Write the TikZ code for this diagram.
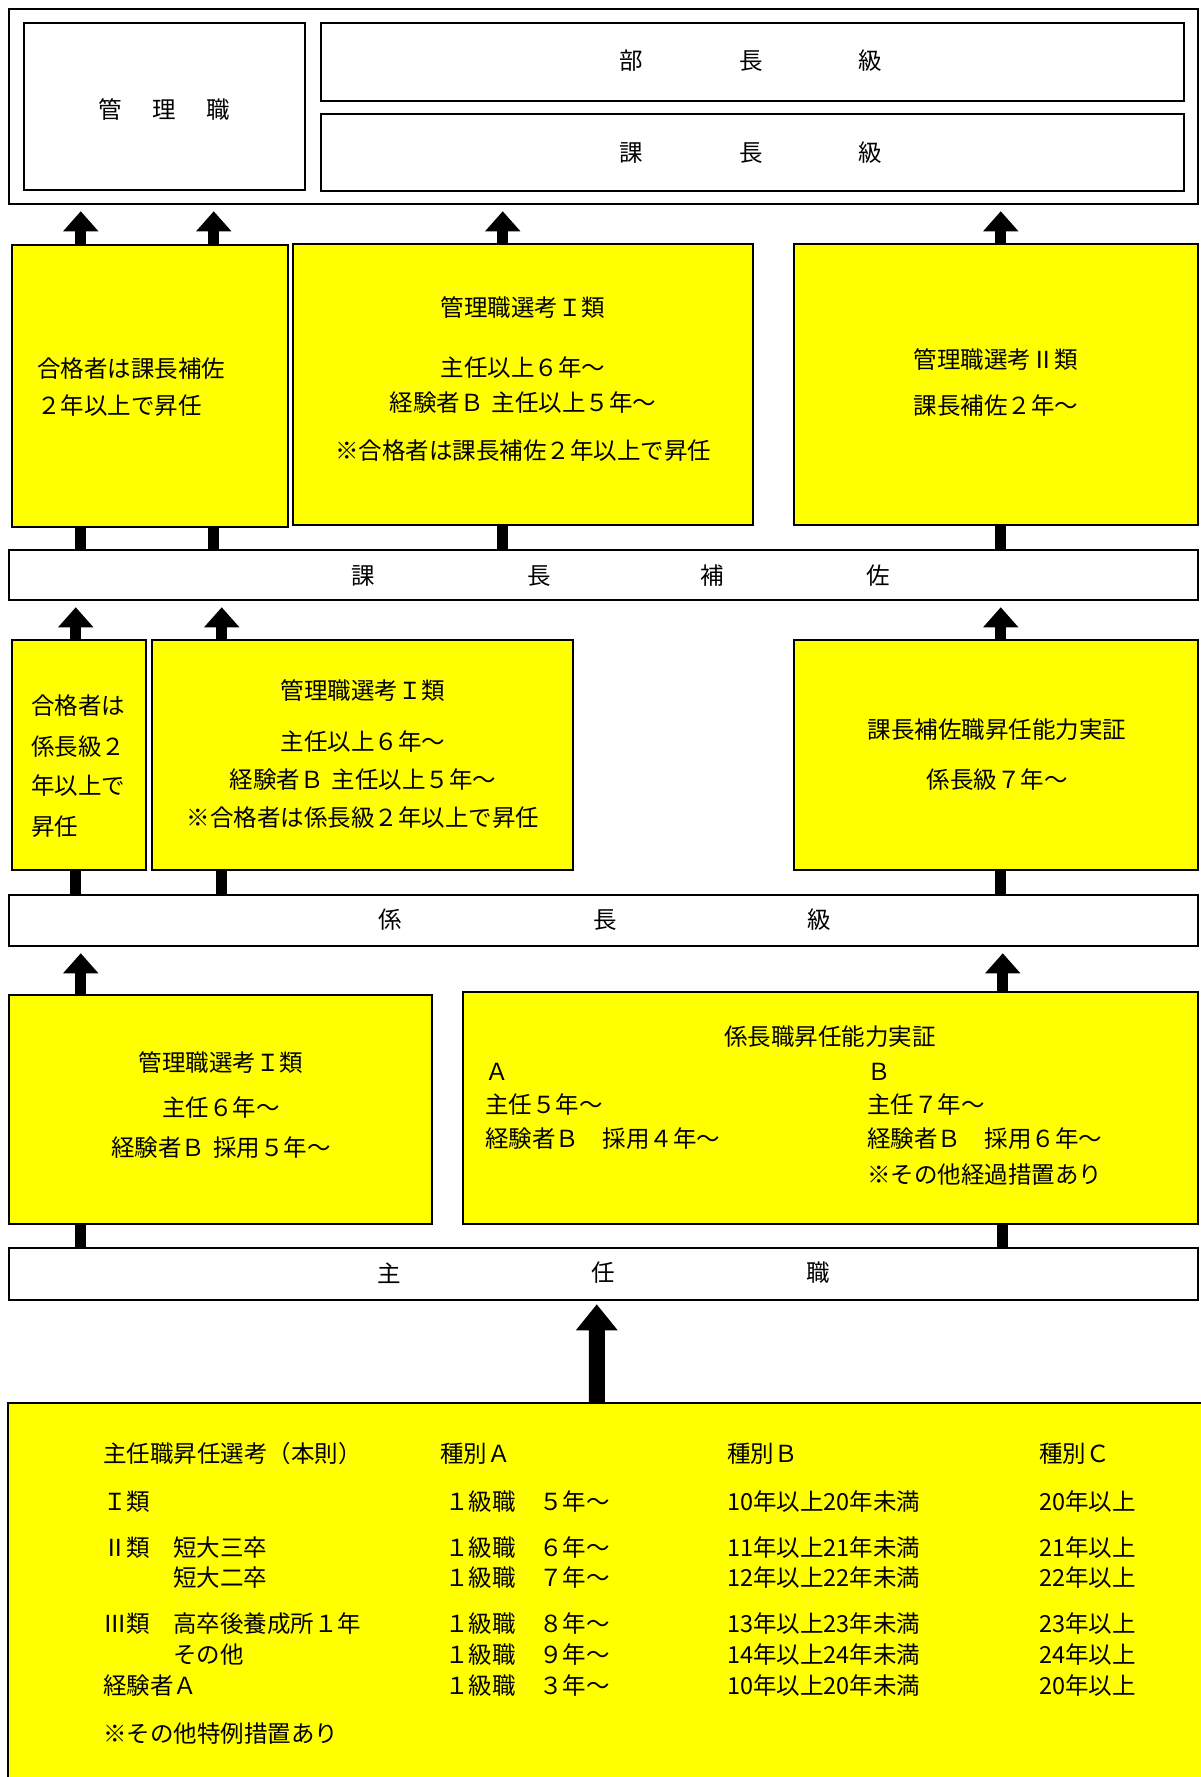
\documentclass[tikz,border=0pt]{standalone}
\usepackage{fontspec}
\setmainfont{Noto Sans CJK JP}
\usetikzlibrary{arrows.meta,backgrounds,positioning}
\definecolor{kiiroiro}{RGB}{255,255,0}
\tikzset{
  waku/.style={draw, line width=2.5pt, fill=white, inner sep=0pt},
  haku/.style={draw, line width=1.5pt, fill=white, inner sep=0pt},
  kiiro/.style={draw, line width=1.5pt, fill=kiiroiro, inner sep=0pt},
  moji/.style={inner sep=0pt, anchor=center},
  hidari/.style={inner sep=0pt, anchor=west},
  yajirushi/.style={line width=11pt, -{Triangle[width=34pt,length=20pt]}, shorten >=6pt},
  futoya/.style={line width=16pt, -{Triangle[width=40pt,length=26pt]}, shorten >=3pt}
}
% box from its corners: name, style, x1, y1, x2, y2
\newcommand{\hako}[6]{\node[#2, minimum width={#5-#3}, minimum height={#6-#4}] (#1) at ({(#3+#5)/2},{(#4+#6)/2}) {};}
\begin{document}
\begin{tikzpicture}[x=1pt, y=-1pt, font=\fontsize{23.5pt}{28pt}\selectfont]
  \useasboundingbox (0,0) rectangle (1201,1777);
  % top frame
  \hako{frame}{waku}{9}{9}{1198}{204}
  \hako{kanri}{haku}{24}{23}{305}{190}
  \hako{bucho}{haku}{321}{23}{1184}{101}
  \hako{kacho}{haku}{321}{114}{1184}{191}
  \foreach \t/\x [count=\i] in {管/110, 理/164, 職/218}
    \node[moji] (kanriL\i) at (\x,110) {\t};
  \foreach \t/\x [count=\i] in {部/631, 長/751, 級/870}
    \node[moji] (buchoL\i) at (\x,61) {\t};
  \foreach \t/\x [count=\i] in {課/631, 長/751, 級/870}
    \node[moji] (kachoL\i) at (\x,153) {\t};
  % row 2
  \hako{gokakuA}{kiiro}{12}{245}{288}{527}
  \hako{senkoA}{kiiro}{293}{244}{753}{525}
  \hako{senkoII}{kiiro}{794}{244}{1198}{525}
  \node[hidari] (gokakuA1) at (37,369) {合格者は課長補佐};
  \node[hidari] (gokakuA2) at (37,406) {２年以上で昇任};
  \node[moji] (senkoA1) at (523,308) {管理職選考Ｉ類};
  \node[moji] (senkoA2) at (523,368) {主任以上６年～};
  \node[moji] (senkoA3) at (523,403) {経験者Ｂ\,\,主任以上５年～};
  \node[moji] (senkoA4) at (523,451) {※合格者は課長補佐２年以上で昇任};
  \node[moji] (senkoII1) at (996,360) {管理職選考Ⅱ類};
  \node[moji] (senkoII2) at (996,406) {課長補佐２年～};
  \hako{hosa}{waku}{9}{550}{1198}{600}
  \foreach \t/\x [count=\i] in {課/363, 長/539, 補/712, 佐/878}
    \node[moji] (hosaL\i) at (\x,576) {\t};
  % row 3
  \hako{gokakuB}{kiiro}{12}{640}{146}{870}
  \hako{senkoB}{kiiro}{152}{640}{573}{870}
  \hako{jisshoA}{kiiro}{794}{640}{1198}{870}
  \foreach \t/\y [count=\i] in {合格者は/706, 係長級２/747, 年以上で/786, 昇任/827}
    \node[hidari] (gokakuB\i) at (31,\y) {\t};
  \node[moji] (senkoB1) at (363,691) {管理職選考Ｉ類};
  \node[moji] (senkoB2) at (363,742) {主任以上６年～};
  \node[moji] (senkoB3) at (363,780) {経験者Ｂ\,\,主任以上５年～};
  \node[moji] (senkoB4) at (363,818) {※合格者は係長級２年以上で昇任};
  \node[moji] (jisshoA1) at (997,730) {課長補佐職昇任能力実証};
  \node[moji] (jisshoA2) at (997,780) {係長級７年～};
  \hako{kakari}{waku}{9}{895}{1198}{946}
  \foreach \t/\x [count=\i] in {係/390, 長/605, 級/819}
    \node[moji] (kakariL\i) at (\x,920) {\t};
  % row 4
  \hako{senkoC}{kiiro}{9}{995}{432}{1224}
  \hako{jisshoB}{kiiro}{463}{992}{1198}{1224}
  \node[moji] (senkoC1) at (221,1063) {管理職選考Ｉ類};
  \node[moji] (senkoC2) at (221,1108) {主任６年～};
  \node[moji] (senkoC3) at (221,1148) {経験者Ｂ\,\,採用５年～};
  \node[moji] (jisshoB0) at (830,1037) {係長職昇任能力実証};
  \node[hidari] (jisshoB1) at (485,1072) {Ａ};
  \node[hidari] (jisshoB2) at (485,1105) {主任５年～};
  \node[hidari] (jisshoB3) at (485,1139) {経験者Ｂ　採用４年～};
  \node[hidari] (jisshoB4) at (867,1072) {Ｂ};
  \node[hidari] (jisshoB5) at (867,1105) {主任７年～};
  \node[hidari] (jisshoB6) at (867,1139) {経験者Ｂ　採用６年～};
  \node[hidari] (jisshoB7) at (867,1175) {※その他経過措置あり};
  \hako{shunin}{waku}{9}{1248}{1198}{1300}
  \foreach \t/\x [count=\i] in {主/389, 任/603, 職/818}
    \node[moji] (shuninL\i) at (\x,1273) {\t};
  % bottom table
  \hako{honsoku}{fill=kiiroiro, inner sep=0pt}{8}{1403}{1201}{1777}
  \draw[line width=1.5pt] (honsoku.south west) |- (honsoku.north east);
  \node[hidari] (hdr1) at (103,1454) {主任職昇任選考（本則）};
  \foreach \t/\x [count=\i] in {種別Ａ/440, 種別Ｂ/727, 種別Ｃ/1039}
    \node[hidari] (hdr\i x) at (\x,1454) {\t};
  \foreach \y/\a/\b/\c/\d/\e [count=\i] in {
      1502/Ｉ類//１級職　５年～/10年以上20年未満/20年以上,
      1548/Ⅱ類/短大三卒/１級職　６年～/11年以上21年未満/21年以上,
      1578//短大二卒/１級職　７年～/12年以上22年未満/22年以上,
      1624/Ⅲ類/高卒後養成所１年/１級職　８年～/13年以上23年未満/23年以上,
      1655//その他/１級職　９年～/14年以上24年未満/24年以上,
      1686/経験者Ａ//１級職　３年～/10年以上20年未満/20年以上}{
    \node[hidari] (r\i a) at (103,\y) {\a};
    \node[hidari] (r\i b) at (173,\y) {\b};
    \node[hidari] (r\i c) at (445,\y) {\c};
    \node[hidari] (r\i d) at (727,\y) {\d};
    \node[hidari] (r\i e) at (1039,\y) {\e};
  }
  \node[hidari] (tokurei) at (103,1734) {※その他特例措置あり};
  % arrows behind the boxes
  \begin{scope}[on background layer]
    \foreach \x in {82,215,504,1002}
      \draw[yajirushi] ([xshift={(\x-9)*1pt}]hosa.north west) -- ([xshift={(\x-9)*1pt}]frame.south west);
    \foreach \x in {77,223,1002}
      \draw[yajirushi] ([xshift={(\x-9)*1pt}]kakari.north west) -- ([xshift={(\x-9)*1pt}]hosa.south west);
    \foreach \x in {82,1004}
      \draw[yajirushi] ([xshift={(\x-9)*1pt}]shunin.north west) -- ([xshift={(\x-9)*1pt}]kakari.south west);
    \draw[futoya] ([xshift=589pt]honsoku.north west) -- ([xshift=589pt]shunin.south west);
  \end{scope}
\end{tikzpicture}
\end{document}
